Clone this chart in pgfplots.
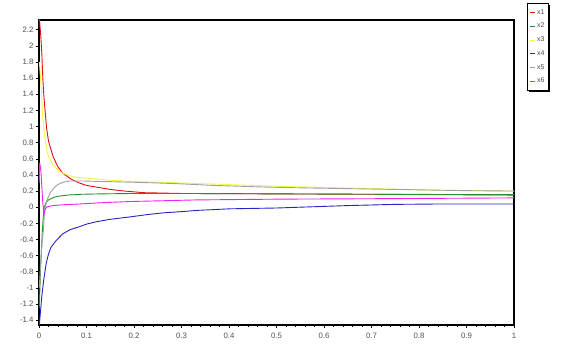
\documentclass[border=0pt]{standalone}
\usepackage{pgfplots}
\pgfplotsset{compat=1.18}
\usepackage{fontspec}
\setmainfont{Liberation Sans}
\usetikzlibrary{shadows}
\makeatletter
\tikzset{no preactions/.code={\let\tikz@preactions\pgfutil@empty}}
\makeatother
\definecolor{cx1}{HTML}{E01010}
\definecolor{cx2}{HTML}{2E8B2E}
\definecolor{cx3}{HTML}{F5F542}
\definecolor{cx4}{HTML}{2525C8}
\definecolor{cx5}{HTML}{A0A0A0}
\definecolor{cx6}{HTML}{F020F0}
\definecolor{tickgray}{HTML}{505050}
\begin{document}
\begin{tikzpicture}
\path (-39pt,-20pt) rectangle (526pt,325pt);
\begin{axis}[
  at={(0,0)}, anchor=south west,
  scale only axis, width=475pt, height=305pt,
  xmin=0, xmax=1, ymin=-1.46, ymax=2.32,
  xtick={0,0.1,...,1.0}, ytick={-1.4,-1.2,...,2.21},
  minor x tick num=4,
  xtick pos=bottom, ytick pos=left,
  tick align=outside,
  major tick length=3pt, minor tick length=2pt,
  tick style={black, line width=0.5pt},
  axis line style={black, line width=1.2pt},
  /pgf/number format/assume math mode=true,
  /pgf/number format/fixed,
  ticklabel style={font=\fontsize{7.8}{8}\selectfont, text=tickgray},
  xticklabel style={yshift=-2pt},
  yticklabel style={xshift=1pt},
  legend style={at={(1,1)}, anchor=north west, xshift=13pt, yshift=17pt,
    draw=black, line width=0.6pt, font=\fontsize{7}{8}\selectfont,
    row sep=3.4pt, inner xsep=2pt, inner ysep=4pt,
    drop shadow={shadow xshift=2pt, shadow yshift=-2pt, fill=black, opacity=1},
    fill=white, text=tickgray},
  legend cell align=left,
  legend image code/.code={\draw[no preactions, #1, line width=0.8pt] (0pt,0pt) -- (5pt,0pt);},
  every axis plot/.append style={line width=0.9pt},
  clip=true,
]
\addplot[cx1] coordinates {(0.0005,2.4) (0.002,2.25) (0.004,2.1) (0.006,1.9) (0.008,1.6) (0.010,1.4) (0.012,1.25) (0.016,0.98) (0.02,0.82) (0.03,0.62) (0.04,0.5) (0.05,0.42) (0.06,0.38) (0.07,0.34) (0.085,0.3) (0.1,0.27) (0.12,0.25) (0.15,0.22) (0.18,0.2) (0.22,0.18) (0.26,0.175) (0.3,0.17) (0.4,0.168) (0.5,0.165) (0.7,0.16) (0.85,0.155) (1,0.15)};
\addlegendentry{x1\hspace{23pt}}
\addplot[cx2] coordinates {(0.0005,-1.25) (0.002,-1.0) (0.003,-0.8) (0.005,-0.55) (0.007,-0.3) (0.009,-0.12) (0.011,0.0) (0.015,0.06) (0.02,0.09) (0.03,0.12) (0.04,0.135) (0.06,0.15) (0.09,0.16) (0.13,0.165) (0.2,0.17) (0.3,0.17) (0.5,0.165) (0.7,0.16) (1,0.155)};
\addlegendentry{x2}
\addplot[cx3] coordinates {(0.0008,1.8) (0.002,1.7) (0.005,1.45) (0.008,1.1) (0.012,0.88) (0.016,0.72) (0.02,0.63) (0.03,0.52) (0.04,0.46) (0.05,0.42) (0.065,0.39) (0.08,0.37) (0.1,0.36) (0.12,0.35) (0.16,0.33) (0.19,0.32) (0.25,0.31) (0.3,0.3) (0.4,0.28) (0.5,0.26) (0.6,0.245) (0.7,0.23) (0.85,0.21) (1,0.2)};
\addlegendentry{x3}
\addplot[cx4] coordinates {(0.0005,-1.48) (0.003,-1.3) (0.006,-1.1) (0.01,-0.9) (0.015,-0.7) (0.02,-0.58) (0.025,-0.5) (0.035,-0.42) (0.05,-0.33) (0.065,-0.28) (0.086,-0.24) (0.1,-0.21) (0.121,-0.18) (0.15,-0.15) (0.192,-0.12) (0.23,-0.09) (0.262,-0.07) (0.3,-0.055) (0.332,-0.04) (0.402,-0.02) (0.5,-0.01) (0.55,0.0) (0.65,0.02) (0.75,0.035) (0.85,0.04) (1,0.04)};
\addlegendentry{x4}
\addplot[cx5] coordinates {(0.0005,-1.0) (0.003,-0.75) (0.005,-0.55) (0.007,-0.4) (0.009,-0.3) (0.011,-0.12) (0.013,0.0) (0.017,0.09) (0.023,0.17) (0.03,0.23) (0.037,0.27) (0.045,0.295) (0.051,0.31) (0.065,0.325) (0.09,0.325) (0.121,0.32) (0.16,0.315) (0.192,0.31) (0.25,0.3) (0.297,0.29) (0.366,0.27) (0.42,0.26) (0.472,0.25) (0.55,0.24) (0.65,0.23) (0.75,0.22) (0.9,0.205) (1,0.2)};
\addlegendentry{x5}
\addplot[cx6] coordinates {(0.0005,0.3) (0.0015,0.55) (0.004,0.45) (0.006,0.25) (0.008,0.05) (0.0105,-0.08) (0.013,-0.03) (0.016,0.0) (0.022,0.012) (0.03,0.02) (0.05,0.03) (0.086,0.04) (0.13,0.055) (0.19,0.07) (0.26,0.08) (0.33,0.09) (0.42,0.095) (0.51,0.1) (0.7,0.105) (0.85,0.11) (1,0.115)};
\addlegendentry{x6}
\end{axis}
\end{tikzpicture}
\end{document}
